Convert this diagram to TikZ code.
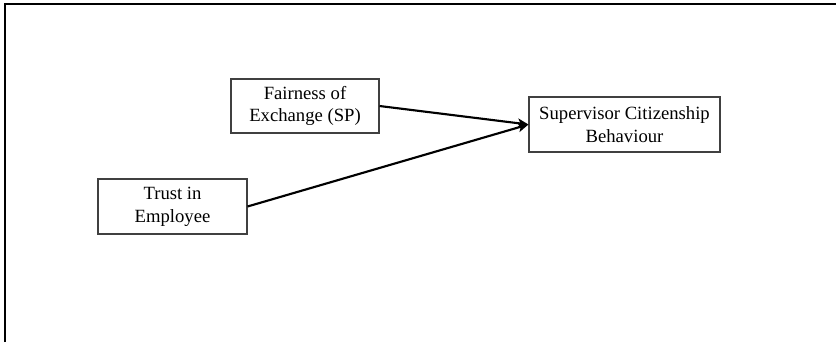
\documentclass[tikz,border=0pt]{standalone}
\usepackage{fontspec}
\setmainfont{Liberation Serif}
\usetikzlibrary{arrows.meta}
\begin{document}
\begin{tikzpicture}[x=0.75pt,y=-0.75pt,
  box/.style={draw=black!75,line width=0.8pt,align=center,inner sep=0pt,
    font=\fontsize{14}{17}\selectfont},
  link/.style={line width=1.6pt,-{Stealth[length=8pt,width=7pt,inset=2pt]}},
  frame/.style={line width=1.5pt}]
\useasboundingbox (0,0) rectangle (837,342);
\draw[frame] (5,342) -- (5,4) -- (836,4);
\node[box,minimum width=148*0.75pt,minimum height=54*0.75pt] (fair) at (305,106) {Fairness of\\Exchange (SP)};
\node[box,minimum width=191*0.75pt,minimum height=55*0.75pt] (scb) at (624.5,124.5) {Supervisor Citizenship\\Behaviour};
\node[box,minimum width=149*0.75pt,minimum height=55*0.75pt] (trust) at (172.5,206.5) {Trust in\\Employee};
\draw[link] (fair.east) -- (scb.west);
\draw[link] (trust.east) -- (scb.west);
\end{tikzpicture}
\end{document}
